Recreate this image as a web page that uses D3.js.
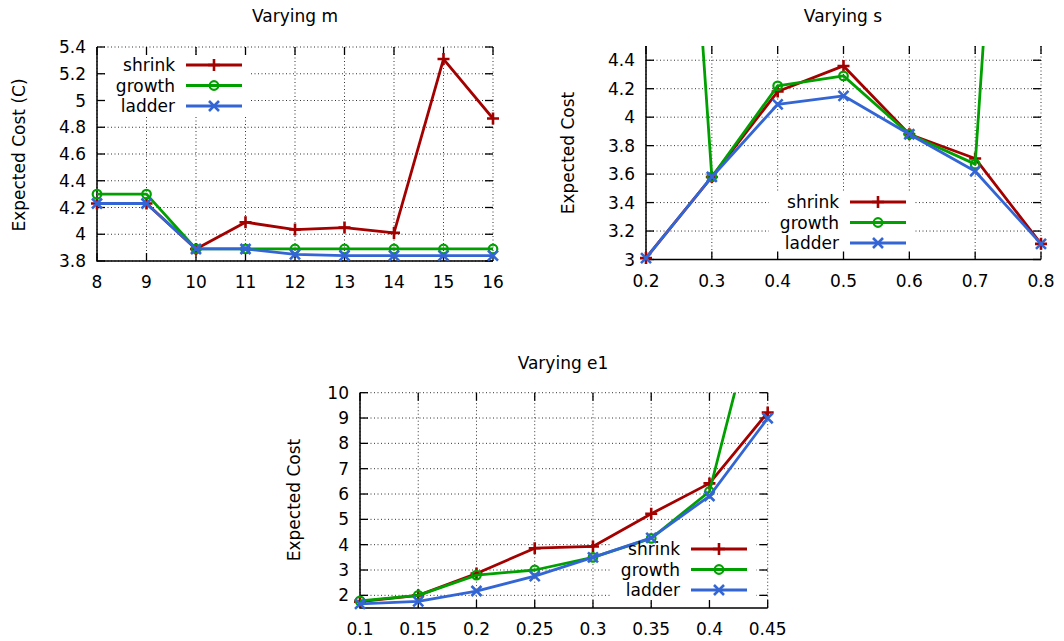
<!DOCTYPE html>
<html>
<head>
<meta charset="utf-8">
<script src="https://cdn.jsdelivr.net/npm/d3@7"></script>
<style>
  body { margin: 0; background: #fff; }
  svg text { font-family: "DejaVu Sans", sans-serif; font-size: 17px; fill: #000; }
</style>
</head>
<body>
<script>
var W = 1064, H = 641;

var seriesNames = ["shrink", "growth", "ladder"];
var seriesColors = ["#a30000", "#00a000", "#3366d4"];

// Varying m
var mValues = [8, 9, 10, 11, 12, 13, 14, 15, 16];
var mShrink = [4.23, 4.23, 3.89, 4.09, 4.035, 4.05, 4.01, 5.31, 4.865];
var mGrowth = [4.30, 4.30, 3.89, 3.89, 3.89, 3.89, 3.89, 3.89, 3.89];
var mLadder = [4.23, 4.23, 3.89, 3.89, 3.85, 3.84, 3.84, 3.84, 3.84];
var mXTicks = [8, 9, 10, 11, 12, 13, 14, 15, 16];
var mYTicks = [3.8, 4, 4.2, 4.4, 4.6, 4.8, 5, 5.2, 5.4];

// Varying s
var sValues = [0.2, 0.3, 0.4, 0.5, 0.6, 0.7, 0.8];
var sShrink = [3.01, 3.58, 4.18, 4.36, 3.88, 3.71, 3.11];
var sGrowth = [10.3, 3.58, 4.22, 4.29, 3.88, 3.67, 10.5];
var sLadder = [3.01, 3.58, 4.09, 4.15, 3.88, 3.62, 3.11];
var sXTicks = [0.2, 0.3, 0.4, 0.5, 0.6, 0.7, 0.8];
var sYTicks = [3, 3.2, 3.4, 3.6, 3.8, 4, 4.2, 4.4];

// Varying e1
var eValues = [0.1, 0.15, 0.2, 0.25, 0.3, 0.35, 0.4, 0.45];
var eShrink = [1.75, 2.0, 2.86, 3.86, 3.93, 5.22, 6.42, 9.22];
var eGrowth = [1.78, 2.0, 2.8, 3.0, 3.5, 4.25, 6.1, 15.1];
var eLadder = [1.66, 1.76, 2.17, 2.76, 3.5, 4.27, 5.92, 8.99];
var eXTicks = [0.1, 0.15, 0.2, 0.25, 0.3, 0.35, 0.4, 0.45];
var eYTicks = [2, 3, 4, 5, 6, 7, 8, 9, 10];

var svg = d3.select("body").append("svg")
    .attr("width", W)
    .attr("height", H);

function marker(g, type, x, y, color) {
    if (type === 0) {
        g.append("path")
            .attr("d", "M" + (x - 6) + "," + y + "H" + (x + 6) + "M" + x + "," + (y - 6) + "V" + (y + 6))
            .attr("stroke", color).attr("stroke-width", 2.6).attr("fill", "none");
    } else if (type === 1) {
        g.append("circle")
            .attr("cx", x).attr("cy", y).attr("r", 4.3)
            .attr("stroke", color).attr("stroke-width", 2.2).attr("fill", "none");
    } else {
        g.append("path")
            .attr("d", "M" + (x - 5) + "," + (y - 5) + "L" + (x + 5) + "," + (y + 5) + "M" + (x - 5) + "," + (y + 5) + "L" + (x + 5) + "," + (y - 5))
            .attr("stroke", color).attr("stroke-width", 2.6).attr("fill", "none");
    }
}

function drawPanel(p) {
    var g = svg.append("g");
    var x = d3.scaleLinear().domain(p.xDomain).range([p.left, p.right]);
    var y = d3.scaleLinear().domain(p.yDomain).range([p.bottom, p.top]);

    // grid
    g.selectAll(".gx").data(p.xTicks).enter().append("line")
        .attr("x1", function(d) { return x(d) }).attr("x2", function(d) { return x(d) })
        .attr("y1", p.top).attr("y2", p.bottom)
        .attr("stroke", "#333").attr("stroke-width", 1).attr("stroke-dasharray", "1,2.5");
    g.selectAll(".gy").data(p.yTicks).enter().append("line")
        .attr("x1", p.left).attr("x2", p.right)
        .attr("y1", function(d) { return y(d) }).attr("y2", function(d) { return y(d) })
        .attr("stroke", "#333").attr("stroke-width", 1).attr("stroke-dasharray", "1,2.5");

    // opaque key area
    var k = p.key;
    g.append("rect")
        .attr("x", k.textRight - 70).attr("y", k.top - 10)
        .attr("width", 70 + 76).attr("height", 2 * 20.5 + 21)
        .attr("fill", "#fff");

    // ticks, mirrored on all sides, pointing inward
    var tk = g.append("g").attr("stroke", "#000").attr("stroke-width", 1.3);
    p.xTicks.forEach(function(d) {
        tk.append("line").attr("x1", x(d)).attr("x2", x(d)).attr("y1", p.bottom).attr("y2", p.bottom - 8);
        tk.append("line").attr("x1", x(d)).attr("x2", x(d)).attr("y1", p.top).attr("y2", p.top + 8);
    });
    p.yTicks.forEach(function(d) {
        tk.append("line").attr("x1", p.left).attr("x2", p.left + 8).attr("y1", y(d)).attr("y2", y(d));
        tk.append("line").attr("x1", p.right).attr("x2", p.right - 8).attr("y1", y(d)).attr("y2", y(d));
    });

    // border: left and bottom only
    g.append("path")
        .attr("d", "M" + p.left + "," + p.top + "V" + p.bottom + "H" + p.right)
        .attr("stroke", "#000").attr("stroke-width", 1.5).attr("fill", "none");

    // tick labels
    g.selectAll(".xl").data(p.xTicks).enter().append("text")
        .attr("x", function(d) { return x(d) })
        .attr("y", p.bottom + 27)
        .attr("text-anchor", "middle")
        .text(function(d) { return d3.format("")(d) });
    g.selectAll(".yl").data(p.yTicks).enter().append("text")
        .attr("x", p.left - 11)
        .attr("y", function(d) { return y(d) + 6 })
        .attr("text-anchor", "end")
        .text(function(d) { return d3.format("")(d) });

    // title and y label
    g.append("text").attr("x", p.titleX).attr("y", p.titleY)
        .attr("text-anchor", "middle").text(p.title);
    g.append("text")
        .attr("transform", "translate(" + (p.ylabX + 6) + "," + p.ylabY + ") rotate(-90)")
        .attr("text-anchor", "middle").text(p.ylab);

    // data
    var clipId = "clip" + p.id;
    svg.append("clipPath").attr("id", clipId).append("rect")
        .attr("x", p.left).attr("y", p.top)
        .attr("width", p.right - p.left).attr("height", p.bottom - p.top);

    var line = d3.line()
        .x(function(d) { return x(d[0]) })
        .y(function(d) { return y(d[1]) });

    p.series.forEach(function(vals, i) {
        var pts = p.xValues.map(function(xv, j) { return [xv, vals[j]] });
        g.append("path")
            .attr("d", line(pts))
            .attr("clip-path", "url(#" + clipId + ")")
            .attr("stroke", seriesColors[i]).attr("stroke-width", 2.8)
            .attr("fill", "none").attr("stroke-linejoin", "round");
        pts.forEach(function(pt) {
            if (pt[1] >= p.yDomain[0] && pt[1] <= p.yDomain[1]) {
                marker(g, i, x(pt[0]), y(pt[1]), seriesColors[i]);
            }
        });
    });

    // key
    seriesNames.forEach(function(name, i) {
        var ry = k.top + i * 20.5;
        g.append("text").attr("x", k.textRight).attr("y", ry + 6)
            .attr("text-anchor", "end").text(name);
        g.append("line")
            .attr("x1", k.textRight + 11).attr("x2", k.textRight + 67)
            .attr("y1", ry).attr("y2", ry)
            .attr("stroke", seriesColors[i]).attr("stroke-width", 2.8);
        marker(g, i, k.textRight + 39, ry, seriesColors[i]);
    });
}

drawPanel({
    id: "m", title: "Varying m", titleX: 295, titleY: 22,
    ylab: "Expected Cost (C)", ylabX: 19, ylabY: 155,
    left: 97, right: 493, top: 47, bottom: 261,
    xDomain: [8, 16], yDomain: [3.8, 5.4],
    xTicks: mXTicks, yTicks: mYTicks,
    xValues: mValues, series: [mShrink, mGrowth, mLadder],
    key: { textRight: 175, top: 65 }
});

drawPanel({
    id: "s", title: "Varying s", titleX: 843, titleY: 22,
    ylab: "Expected Cost", ylabX: 568, ylabY: 153,
    left: 646, right: 1041, top: 46, bottom: 259.5,
    xDomain: [0.2, 0.8], yDomain: [3, 4.5],
    xTicks: sXTicks, yTicks: sYTicks,
    xValues: sValues, series: [sShrink, sGrowth, sLadder],
    key: { textRight: 839, top: 202 }
});

drawPanel({
    id: "e", title: "Varying e1", titleX: 563, titleY: 369,
    ylab: "Expected Cost", ylabX: 294, ylabY: 500,
    left: 360, right: 767.7, top: 392.7, bottom: 608,
    xDomain: [0.1, 0.45], yDomain: [1.5, 10],
    xTicks: eXTicks, yTicks: eYTicks,
    xValues: eValues, series: [eShrink, eGrowth, eLadder],
    key: { textRight: 680, top: 549 }
});
</script>
</body>
</html>
